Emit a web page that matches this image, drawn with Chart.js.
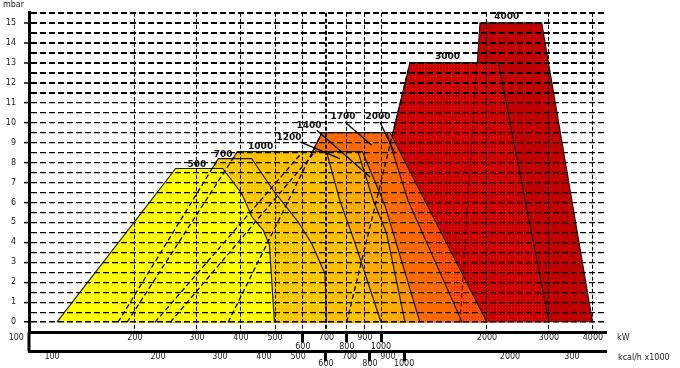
<!DOCTYPE html>
<html>
<head>
<meta charset="utf-8">
<script src="https://cdn.jsdelivr.net/npm/chart.js@4.4.0/dist/chart.umd.min.js"></script>
<style>
  html, body { margin: 0; padding: 0; background: #fff; }
  #wrap { width: 680px; height: 368px; position: relative; }
</style>
</head>
<body>
<div id="wrap"><canvas id="burnerChart"></canvas></div>
<script>
// Burner working ranges: output in kW (log scale) vs chamber pressure in mbar
const models = ['500', '700', '1000', '1200', '1400', '1700', '2000', '3000', '4000'];

// outline of each range: left foot -> top -> right side down to 0 mbar
const kw500 = [120, 261, 355, 402, 430, 463, 482, 498];
const mbar500 = [0, 7.7, 7.7, 6.45, 5.27, 4.6, 3.85, 0];
const kw700 = [179, 345, 429, 494, 582, 636, 693, 700];
const mbar700 = [0, 8.2, 8.2, 6.61, 5.02, 3.93, 2.43, 0];
const kw1000 = [190, 391, 700, 764, 844, 1000];
const mbar1000 = [0, 8.55, 8.55, 6.1, 3.95, 0];
const kw1200 = [228, 600, 860, 951, 1038, 1170];
const mbar1200 = [0, 8.55, 8.55, 6.1, 4.43, 0];
const kw1400 = [252, 650, 885, 1026, 1290];
const mbar1400 = [0, 8.55, 8.55, 5.85, 0];
const kw1700 = [368, 680, 1038, 1193, 1700];
const mbar1700 = [0, 9.5, 9.5, 6.1, 0];
const kw2000 = [368, 680, 1061, 2000];
const mbar2000 = [0, 9.5, 9.5, 0];
const kw3000 = [799, 1209, 2154, 3000];
const mbar3000 = [0, 13, 13, 0];
const kw4000 = [1677, 1911, 2861, 3990];
const mbar4000 = [0, 15, 15, 0];

// hidden left edges, drawn dashed
const edgeKw = [[179, 345], [190, 391], [228, 600], [252, 650], [368, 680], [799, 1209], [1677, 1870]];
const edgeMbar = [[0, 8.2], [0, 8.55], [0, 8.55], [0, 8.55], [0, 9.5], [0, 13], [0, 13]];

// leader lines from the model labels
const leaderKw = [[589, 764], [657, 931], [790, 941], [993, 1096]];
const leaderMbar = [[9.03, 8.2], [9.62, 7.28], [10.03, 8.87], [10.03, 8.45]];

// model label positions
const labelKw = [300, 356, 455, 548, 624, 780, 980, 1545, 2276];
const labelMbar = [7.91, 8.41, 8.78, 9.23, 9.83, 10.3, 10.3, 13.3, 15.3];

// axes
const kwTicks = [100, 200, 300, 400, 500, 600, 700, 800, 900, 1000, 2000, 3000, 4000];
const kwLabels = ['100', '200', '300', '400', '500', ['', '600'], '700', ['', '800'], '900', ['', '1000'], '2000', '3000', '4000'];
const kwMarked = [600, 800, 1000];
const kcalTicks = [100, 200, 300, 400, 500, 600, 700, 800, 900, 1000, 2000, 3000];
const kcalLabels = ['100', '200', '300', '400', '500', ['', '600'], '700', ['', '800'], '900', ['', '1000'], '2000', '300'];
const kcalMarked = [600, 800, 1000];
const mbarTicks = [0, 1, 2, 3, 4, 5, 6, 7, 8, 9, 10, 11, 12, 13, 14, 15];

const kwMin = 100, kwMax = 4357, kcalPerKw = 0.86;

const rangeKw = [kw500, kw700, kw1000, kw1200, kw1400, kw1700, kw2000, kw3000, kw4000];
const rangeMbar = [mbar500, mbar700, mbar1000, mbar1200, mbar1400, mbar1700, mbar2000, mbar3000, mbar4000];

// dotted fills like the printed chart (one soft dot per 3x3 cell)
function dots(base, dot) {
    const c = document.createElement('canvas');
    c.width = 3; c.height = 3;
    const g = c.getContext('2d');
    g.fillStyle = base;
    g.fillRect(0, 0, 3, 3);
    g.fillStyle = dot;
    g.fillRect(1, 1, 1, 1);
    return g.createPattern(c, 'repeat');
}

const rangeFills = [
    '#FFFF00', dots('#FFC400', '#FFEE00'), '#FFC000', '#FFAA00', '#FF9200',
    '#FF6A00', dots('#FF5200', '#FF2200'), dots('#C80000', '#E41010'), '#C00000'
];

const pts = (kw, mbar) => kw.map((v, i) => ({ x: v, y: mbar[i] }));

const datasets = [];
rangeKw.forEach((kw, i) => {
    datasets.push({
        data: pts(kw, rangeMbar[i]),
        backgroundColor: rangeFills[i],
        borderColor: '#1a1a1a',
        borderWidth: 1.2,
        fill: 'origin',
        pointRadius: 0,
        order: i + 1
    });
});
edgeKw.forEach((kw, i) => {
    datasets.push({
        data: pts(kw, edgeMbar[i]),
        borderColor: i === edgeKw.length - 1 ? '#700000' : '#000',
        borderWidth: 1.3,
        borderDash: [5, 3],
        fill: false,
        pointRadius: 0,
        order: 0
    });
});
leaderKw.forEach((kw, i) => {
    datasets.push({
        data: pts(kw, leaderMbar[i]),
        borderColor: '#000',
        borderWidth: 1.3,
        fill: false,
        pointRadius: 0,
        order: 0
    });
});

const isWhole = v => Math.abs(v - Math.round(v)) < 1e-6;
const clear = 'rgba(0,0,0,0)';

// model numbers, axis captions, left axis running down through both scales
const annotate = {
    id: 'annotate',
    afterDraw(chart) {
        const { ctx, chartArea, scales: { x, y, x2 } } = chart;
        ctx.save();
        ctx.fillStyle = '#111';
        ctx.textAlign = 'center';
        ctx.textBaseline = 'middle';
        ctx.font = 'bold 9px "DejaVu Sans"';
        models.forEach((m, i) => {
            ctx.fillText(m, x.getPixelForValue(labelKw[i]), y.getPixelForValue(labelMbar[i]));
        });
        ctx.font = '8px "DejaVu Sans"';
        ctx.fillStyle = '#222';
        ctx.textAlign = 'left';
        ctx.fillText('mbar', 3, chartArea.top - 7.5);
        ctx.fillText('kW', chartArea.right + 11, x.top + 6);
        ctx.fillText('kcal/h x1000', chartArea.right + 12, x2.top + 7);
        ctx.strokeStyle = '#000';
        ctx.lineWidth = 3;
        ctx.beginPath();
        ctx.moveTo(chartArea.left, chartArea.bottom);
        ctx.lineTo(chartArea.left, x2.top);
        ctx.stroke();
        ctx.restore();
    }
};

new Chart(document.getElementById('burnerChart'), {
    type: 'line',
    data: { datasets },
    options: {
        responsive: true,
        maintainAspectRatio: false,
        animation: false,
        layout: { padding: { left: 6, right: 74, top: 12.7, bottom: 0 } },
        plugins: { legend: { display: false }, tooltip: { enabled: false } },
        elements: { line: { tension: 0 } },
        scales: {
            x: {
                type: 'logarithmic',
                position: 'bottom',
                weight: 0,
                min: kwMin,
                max: kwMax,
                afterBuildTicks: s => { s.ticks = kwTicks.map(v => ({ value: v })); },
                afterFit: s => { s.height = 19.1; },
                ticks: {
                    autoSkip: false, maxRotation: 0, minRotation: 0, padding: -8.5,
                    color: '#222', font: { family: 'DejaVu Sans', size: 8, lineHeight: 1.1 },
                    callback: (v, i) => i === 0 ? kwLabels[0] + '\u00a0'.repeat(10) : kwLabels[i]
                },
                grid: {
                    z: 1,
                    color: '#000',
                    lineWidth: c => (c.tick && c.tick.value === 700) ? 2 : 1,
                    tickLength: 10,
                    tickWidth: 3,
                    tickColor: c => (c.tick && kwMarked.includes(c.tick.value)) ? '#000' : clear,
                    tickBorderDash: []
                },
                border: { display: true, color: '#000', width: 3, dash: [4, 2], z: 2 }
            },
            x2: {
                type: 'logarithmic',
                position: 'bottom',
                weight: 1,
                min: kwMin * kcalPerKw,
                max: kwMax * kcalPerKw,
                afterBuildTicks: s => { s.ticks = kcalTicks.map(v => ({ value: v })); },
                afterFit: s => { s.height = 16.7; },
                ticks: {
                    autoSkip: false, maxRotation: 0, minRotation: 0, padding: -8.5,
                    color: '#222', font: { family: 'DejaVu Sans', size: 8, lineHeight: 0.95 },
                    callback: (v, i) => kcalLabels[i]
                },
                grid: {
                    z: 1,
                    drawOnChartArea: false,
                    color: clear,
                    tickLength: 10,
                    tickWidth: 3,
                    tickColor: c => (c.tick && kcalMarked.includes(c.tick.value)) ? '#000' : clear,
                    tickBorderDash: []
                },
                border: { display: true, color: '#000', width: 3, z: 2 }
            },
            y: {
                type: 'linear',
                min: -0.5,
                max: 15.5,
                afterFit: s => { s.width = 23; },
                ticks: {
                    stepSize: 0.5, autoSkip: false, padding: 8, color: '#222',
                    font: { family: 'DejaVu Sans', size: 8 },
                    callback: v => (isWhole(v) && mbarTicks.includes(Math.round(v))) ? String(Math.round(v)) : ''
                },
                grid: {
                    z: 1,
                    color: c => (c.tick && c.tick.value < 0) ? clear : '#000',
                    lineWidth: c => {
                        const v = c.tick ? c.tick.value : 0;
                        if (v >= 11.5) return 2;
                        if (Math.abs(v) < 1e-6) return 1.6;
                        return 1.2;
                    },
                    tickLength: 5,
                    tickWidth: 1.5,
                    tickColor: c => (c.tick && c.tick.value >= 0 && isWhole(c.tick.value)) ? '#000' : clear,
                    tickBorderDash: []
                },
                border: { display: true, color: '#000', width: 3, dash: [6, 3], z: 2 }
            }
        }
    },
    plugins: [annotate]
});
</script>
</body>
</html>
